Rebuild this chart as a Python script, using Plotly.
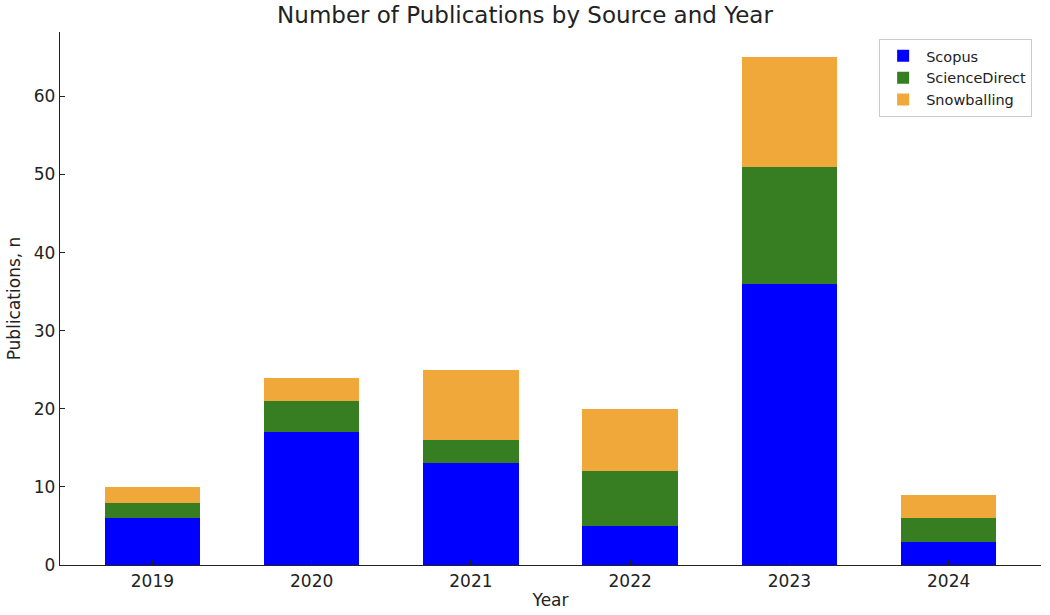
import plotly.graph_objects as go

years = ["2019", "2020", "2021", "2022", "2023", "2024"]
scopus = [6, 17, 13, 5, 36, 3]
sciencedirect = [2, 4, 3, 7, 15, 3]
snowballing = [2, 3, 9, 8, 14, 3]

series = [
    ("Scopus", scopus, "#0000ff"),
    ("ScienceDirect", sciencedirect, "#377e22"),
    ("Snowballing", snowballing, "#f1a83b"),
]

font_family = "DejaVu Sans"
fig = go.Figure()
for name, vals, color in series:
    fig.add_trace(go.Bar(x=years, y=vals, name=name, width=0.6,
                         marker=dict(color=color, line=dict(width=0))))

fig.update_layout(
    barmode="stack",
    width=1050, height=615,
    paper_bgcolor="white", plot_bgcolor="white",
    margin=dict(l=60, r=9, t=32, b=50),
    font=dict(family=font_family, size=17, color="#222222"),
    title=dict(text="Number of Publications by Source and Year",
               x=0.5, xanchor="center", y=0.976, yanchor="middle",
               font=dict(size=23, color="#222222")),
    legend=dict(x=0.835, y=0.987, xanchor="left", yanchor="top",
                bordercolor="#cccccc", borderwidth=1, bgcolor="white",
                font=dict(size=14.5, color="#222222"), tracegroupgap=0,
                traceorder="normal", itemwidth=36),
    bargap=0,
)
fig.update_xaxes(range=[-0.58, 5.58], showline=True, linecolor="#222222", linewidth=1.3,
                 ticks="inside", ticklen=5, tickcolor="#222222", showgrid=False,
                 title=dict(text="Year", standoff=4, font=dict(size=17)))
fig.update_yaxes(range=[0, 68.25], showline=True, linecolor="#222222", linewidth=1.3,
                 ticks="inside", ticklen=5, tickcolor="#222222", showgrid=False,
                 tickvals=[0, 10, 20, 30, 40, 50, 60], zeroline=False,
                 title=dict(text="Publications, n", standoff=8, font=dict(size=17)))

fig.write_html("out.html", config={"displayModeBar": False},
               post_script="document.body.style.margin='0';")
